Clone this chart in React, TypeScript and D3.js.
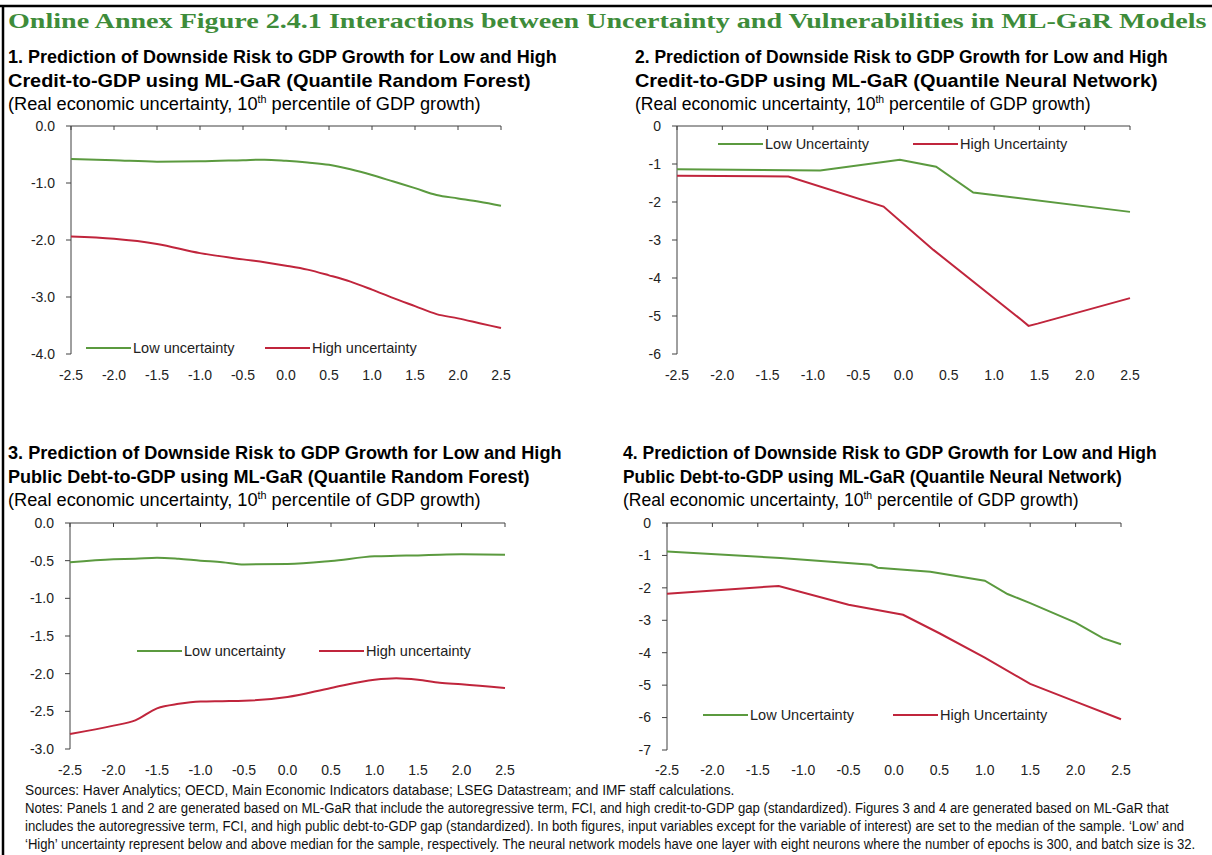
import React, { useLayoutEffect, useRef, useState } from "react";
import * as d3 from "d3";

// ---------- DATA ----------
const xTicks = [-2.5, -2.0, -1.5, -1.0, -0.5, 0.0, 0.5, 1.0, 1.5, 2.0, 2.5];

// Panel 1: Credit-to-GDP, Quantile Random Forest
const p1X = [-2.5, -2.0, -1.5, -1.0, -0.5, -0.25, 0.0, 0.25, 0.5, 0.75, 1.0, 1.25, 1.5, 1.75, 2.0, 2.25, 2.5];
const p1Low = [-0.58, -0.6, -0.625, -0.62, -0.6, -0.59, -0.61, -0.64, -0.68, -0.76, -0.86, -0.975, -1.09, -1.21, -1.27, -1.33, -1.4];
const p1High = [-1.94, -1.98, -2.07, -2.23, -2.34, -2.39, -2.45, -2.52, -2.62, -2.73, -2.87, -3.02, -3.16, -3.3, -3.375, -3.46, -3.545];
const p1YTicks = [0, -1, -2, -3, -4];

// Panel 2: Credit-to-GDP, Quantile Neural Network
const p2LowX = [-2.5, -0.92, -0.04, 0.36, 0.77, 2.5];
const p2Low = [-1.14, -1.17, -0.89, -1.07, -1.75, -2.26];
const p2HighX = [-2.5, -1.27, -0.22, 0.33, 1.3, 1.38, 1.48, 2.5];
const p2High = [-1.31, -1.33, -2.12, -3.26, -5.1, -5.26, -5.2, -4.53];
const p2YTicks = [0, -1, -2, -3, -4, -5, -6];

// Panel 3: Public Debt-to-GDP, Quantile Random Forest
const p3X = [-2.5, -2.0, -1.75, -1.5, -1.25, -1.0, -0.75, -0.5, 0.0, 0.5, 1.0, 1.25, 1.5, 1.75, 2.0, 2.5];
const p3Low = [-0.52, -0.48, -0.475, -0.46, -0.475, -0.5, -0.52, -0.55, -0.545, -0.505, -0.443, -0.435, -0.43, -0.42, -0.415, -0.42];
const p3High = [-2.8, -2.69, -2.62, -2.46, -2.4, -2.37, -2.365, -2.36, -2.31, -2.19, -2.08, -2.06, -2.08, -2.12, -2.14, -2.19];
const p3YTicks = [0, -0.5, -1, -1.5, -2, -2.5, -3];

// Panel 4: Public Debt-to-GDP, Quantile Neural Network
const p4LowX = [-2.5, -1.25, -0.25, -0.18, 0.4, 1.0, 1.25, 1.5, 2.0, 2.3, 2.5];
const p4Low = [-0.88, -1.08, -1.29, -1.38, -1.5, -1.78, -2.19, -2.47, -3.07, -3.55, -3.74];
const p4HighX = [-2.5, -1.27, -0.5, 0.1, 0.5, 1.0, 1.5, 2.0, 2.5];
const p4High = [-2.18, -1.94, -2.52, -2.83, -3.4, -4.15, -4.96, -5.51, -6.05];
const p4YTicks = [0, -1, -2, -3, -4, -5, -6, -7];

const mainTitle =
  "Online Annex Figure 2.4.1 Interactions between Uncertainty and Vulnerabilities in ML-GaR Models";

const footLines = [
  "Sources:  Haver Analytics; OECD, Main Economic Indicators database; LSEG Datastream; and IMF staff calculations.",
  "Notes: Panels 1 and 2 are generated based on ML-GaR that include the autoregressive term, FCI, and high credit-to-GDP gap (standardized). Figures 3 and 4 are generated based on ML-GaR that",
  "includes the autoregressive term, FCI, and high public debt-to-GDP gap (standardized). In both figures, input variables except for the variable of interest) are set to the median of the sample. \u2018Low\u2019 and",
  "\u2018High\u2019 uncertainty represent below and above median for the sample, respectively. The neural network models have one layer with eight neurons where the number of epochs is 300, and batch size is 32.",
];
const footWidths = [710, 1145, 1160, 1172];

// ---------- STYLE ----------
const GREEN = "#5B9A3F";
const RED = "#C0253C";
const TITLE_GREEN = "#3E8C3A";
const AXIS = "#404040";
const SANS = "'Liberation Sans', Arial, Helvetica, sans-serif";

// Text squeezed horizontally to a target width (emulates the narrow font)
function FitText(props: any) {
  const { x, y, width, children, ...rest } = props;
  const ref = useRef<SVGTextElement>(null);
  const [s, setS] = useState(1);
  useLayoutEffect(() => {
    if (ref.current) {
      const l = ref.current.getComputedTextLength();
      if (l > 0) setS(width / l);
    }
  }, [width]);
  return (
    <text ref={ref} transform={`translate(${x},${y}) scale(${s},1)`} x={0} y={0} {...rest}>
      {children}
    </text>
  );
}

type PanelProps = {
  x0: number; x1: number; y0: number; y1: number;
  yDomain: [number, number];
  yTicks: number[];
  yFmt: (v: number) => string;
  lowX: number[]; low: number[];
  highX: number[]; high: number[];
  curve: d3.CurveFactory;
  legendY: number;
  legendLowX: number; legendHighX: number;
  lowLabel: string; highLabel: string;
  labelY: number;
  title1: string; title2: string;
  titleX: number; titleY: number;
  w1: number; w2: number; w3: number;
};

function Panel(p: PanelProps) {
  const x = d3.scaleLinear().domain([-2.5, 2.5]).range([p.x0, p.x1]);
  const y = d3.scaleLinear().domain(p.yDomain).range([p.y0, p.y1]);
  const mk = (xs: number[], ys: number[]) =>
    d3
      .line<[number, number]>()
      .x((d) => x(d[0]))
      .y((d) => y(d[1]))
      .curve(p.curve)(xs.map((v, i) => [v, ys[i]] as [number, number])) || "";
  const segLen = 45;
  return (
    <g>
      <FitText x={p.titleX} y={p.titleY} width={p.w1} fontFamily={SANS} fontWeight="bold"
        fontSize={19} fill="#000">{p.title1}</FitText>
      <FitText x={p.titleX} y={p.titleY + 24} width={p.w2} fontFamily={SANS} fontWeight="bold"
        fontSize={19} fill="#000">{p.title2}</FitText>
      <FitText x={p.titleX} y={p.titleY + 47} width={p.w3} fontFamily={SANS} fontSize={18.5} fill="#000">
        <tspan>(Real economic uncertainty, 10</tspan>
        <tspan fontSize={11} dy={-7}>th</tspan>
        <tspan dy={7}> percentile of GDP growth)</tspan>
      </FitText>
      {/* y axis */}
      <line x1={p.x0} x2={p.x0} y1={p.y0} y2={p.y1} stroke={AXIS} strokeWidth={1} />
      {p.yTicks.map((t) => (
        <g key={"y" + t}>
          <line x1={p.x0 - 5} x2={p.x0} y1={y(t)} y2={y(t)} stroke={AXIS} />
          <text x={p.x0 - 16} y={y(t)} dy="0.35em" textAnchor="end" fontFamily={SANS}
            fontSize={14} fill="#222">{p.yFmt(t)}</text>
        </g>
      ))}
      {/* x axis at zero (top) */}
      <line x1={p.x0} x2={p.x1} y1={y(0)} y2={y(0)} stroke={AXIS} strokeWidth={1} />
      {xTicks.map((t) => (
        <g key={"x" + t}>
          <line x1={x(t)} x2={x(t)} y1={y(0)} y2={y(0) + 4} stroke={AXIS} />
          <text x={x(t)} y={p.labelY} textAnchor="middle" fontFamily={SANS} fontSize={14}
            fill="#222">{t.toFixed(1)}</text>
        </g>
      ))}
      {/* lines */}
      <path d={mk(p.lowX, p.low)} fill="none" stroke={GREEN} strokeWidth={2} />
      <path d={mk(p.highX, p.high)} fill="none" stroke={RED} strokeWidth={2} />
      {/* legend */}
      <line x1={p.legendLowX} x2={p.legendLowX + segLen} y1={p.legendY} y2={p.legendY}
        stroke={GREEN} strokeWidth={2} />
      <text x={p.legendLowX + segLen + 2} y={p.legendY} dy="0.35em" fontFamily={SANS}
        fontSize={14.5} fill="#222">{p.lowLabel}</text>
      <line x1={p.legendHighX} x2={p.legendHighX + segLen} y1={p.legendY} y2={p.legendY}
        stroke={RED} strokeWidth={2} />
      <text x={p.legendHighX + segLen + 2} y={p.legendY} dy="0.35em" fontFamily={SANS}
        fontSize={14.5} fill="#222">{p.highLabel}</text>
    </g>
  );
}

export default function App() {
  const f1 = (v: number) => v.toFixed(1);
  const f0 = (v: number) => v.toFixed(0);
  return (
    <svg width={1212} height={855} style={{ position: "absolute", left: 0, top: 0, background: "#fff" }}>
      <rect x={0} y={0} width={1212} height={855} fill="#fff" />
      <line x1={0} x2={1212} y1={6} y2={6} stroke="#000" strokeWidth={2.5} />
      <line x1={3} x2={3} y1={5} y2={855} stroke="#000" strokeWidth={2.5} />
      <FitText x={8} y={28} width={1199} fontFamily="'Liberation Serif', 'Times New Roman', serif"
        fontWeight="bold" fontSize={22} fill={TITLE_GREEN}>{mainTitle}</FitText>

      <Panel x0={71} x1={501} y0={126} y1={354} yDomain={[0, -4]} yTicks={p1YTicks} yFmt={f1}
        lowX={p1X} low={p1Low} highX={p1X} high={p1High} curve={d3.curveMonotoneX}
        legendY={348} legendLowX={86} legendHighX={265}
        lowLabel="Low uncertainty" highLabel="High uncertainty" labelY={380}
        title1="1. Prediction of Downside Risk to GDP Growth for Low and High"
        title2="Credit-to-GDP using ML-GaR (Quantile Random Forest)"
        titleX={8} titleY={63} w1={549} w2={523} w3={473} />

      <Panel x0={677} x1={1130} y0={126} y1={354} yDomain={[0, -6]} yTicks={p2YTicks} yFmt={f0}
        lowX={p2LowX} low={p2Low} highX={p2HighX} high={p2High} curve={d3.curveLinear}
        legendY={144} legendLowX={718} legendHighX={913}
        lowLabel="Low Uncertainty" highLabel="High Uncertainty" labelY={380}
        title1="2. Prediction of Downside Risk to GDP Growth for Low and High"
        title2="Credit-to-GDP using ML-GaR (Quantile Neural Network)"
        titleX={635} titleY={63} w1={533} w2={523} w3={456} />

      <Panel x0={70} x1={505} y0={523} y1={749} yDomain={[0, -3]} yTicks={p3YTicks} yFmt={f1}
        lowX={p3X} low={p3Low} highX={p3X} high={p3High} curve={d3.curveMonotoneX}
        legendY={651} legendLowX={137} legendHighX={319}
        lowLabel="Low uncertainty" highLabel="High uncertainty" labelY={775}
        title1="3.  Prediction of Downside Risk to GDP Growth for Low and High"
        title2="Public Debt-to-GDP using ML-GaR (Quantile Random Forest)"
        titleX={8} titleY={459} w1={554} w2={522} w3={473} />

      <Panel x0={667} x1={1121} y0={523} y1={750} yDomain={[0, -7]} yTicks={p4YTicks} yFmt={f0}
        lowX={p4LowX} low={p4Low} highX={p4HighX} high={p4High} curve={d3.curveLinear}
        legendY={715} legendLowX={703} legendHighX={893}
        lowLabel="Low Uncertainty" highLabel="High Uncertainty" labelY={775}
        title1="4. Prediction of Downside Risk to GDP Growth for Low and High"
        title2="Public Debt-to-GDP using ML-GaR (Quantile Neural Network)"
        titleX={623} titleY={459} w1={534} w2={499} w3={456} />

      {footLines.map((t, i) => (
        <FitText key={i} x={25} y={795 + i * 18} width={footWidths[i]} fontFamily={SANS}
          fontSize={14} fill="#111">{t}</FitText>
      ))}
    </svg>
  );
}
